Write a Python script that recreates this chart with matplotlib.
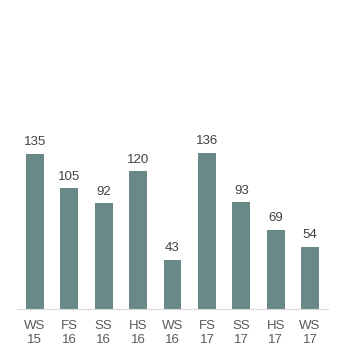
import matplotlib.pyplot as plt

semester = ["WS\n15", "FS\n16", "SS\n16", "HS\n16", "WS\n16", "FS\n17", "SS\n17", "HS\n17", "WS\n17"]
anzahl = [135, 105, 92, 120, 43, 136, 93, 69, 54]

plt.rcParams['font.family'] = ['Liberation Sans', 'DejaVu Sans']

fig = plt.figure(figsize=(3.59, 3.59), dpi=100)
ax = fig.add_axes([17 / 359, 1 - 309 / 359, 311 / 359, 309 / 359])

x = range(len(anzahl))
bars = ax.bar(x, anzahl, width=0.52, color="#698989")
for xi, v in zip(x, anzahl):
    ax.annotate(str(v), (xi, v), xytext=(0, 4), textcoords="offset points",
                ha="center", va="bottom", fontsize=9.5, color="#404040")

ax.set_xlim(-0.52, 8.52)
ax.set_ylim(0, 269)
ax.set_xticks(list(x))
ax.set_xticklabels(semester, fontsize=9.5, color="#595959", linespacing=1.25)
ax.tick_params(axis="x", length=0, pad=8)
ax.set_yticks([])
for s in ["top", "right", "left"]:
    ax.spines[s].set_visible(False)
ax.spines["bottom"].set_color("#d9d9d9")

fig.savefig("out.png", dpi=100)
